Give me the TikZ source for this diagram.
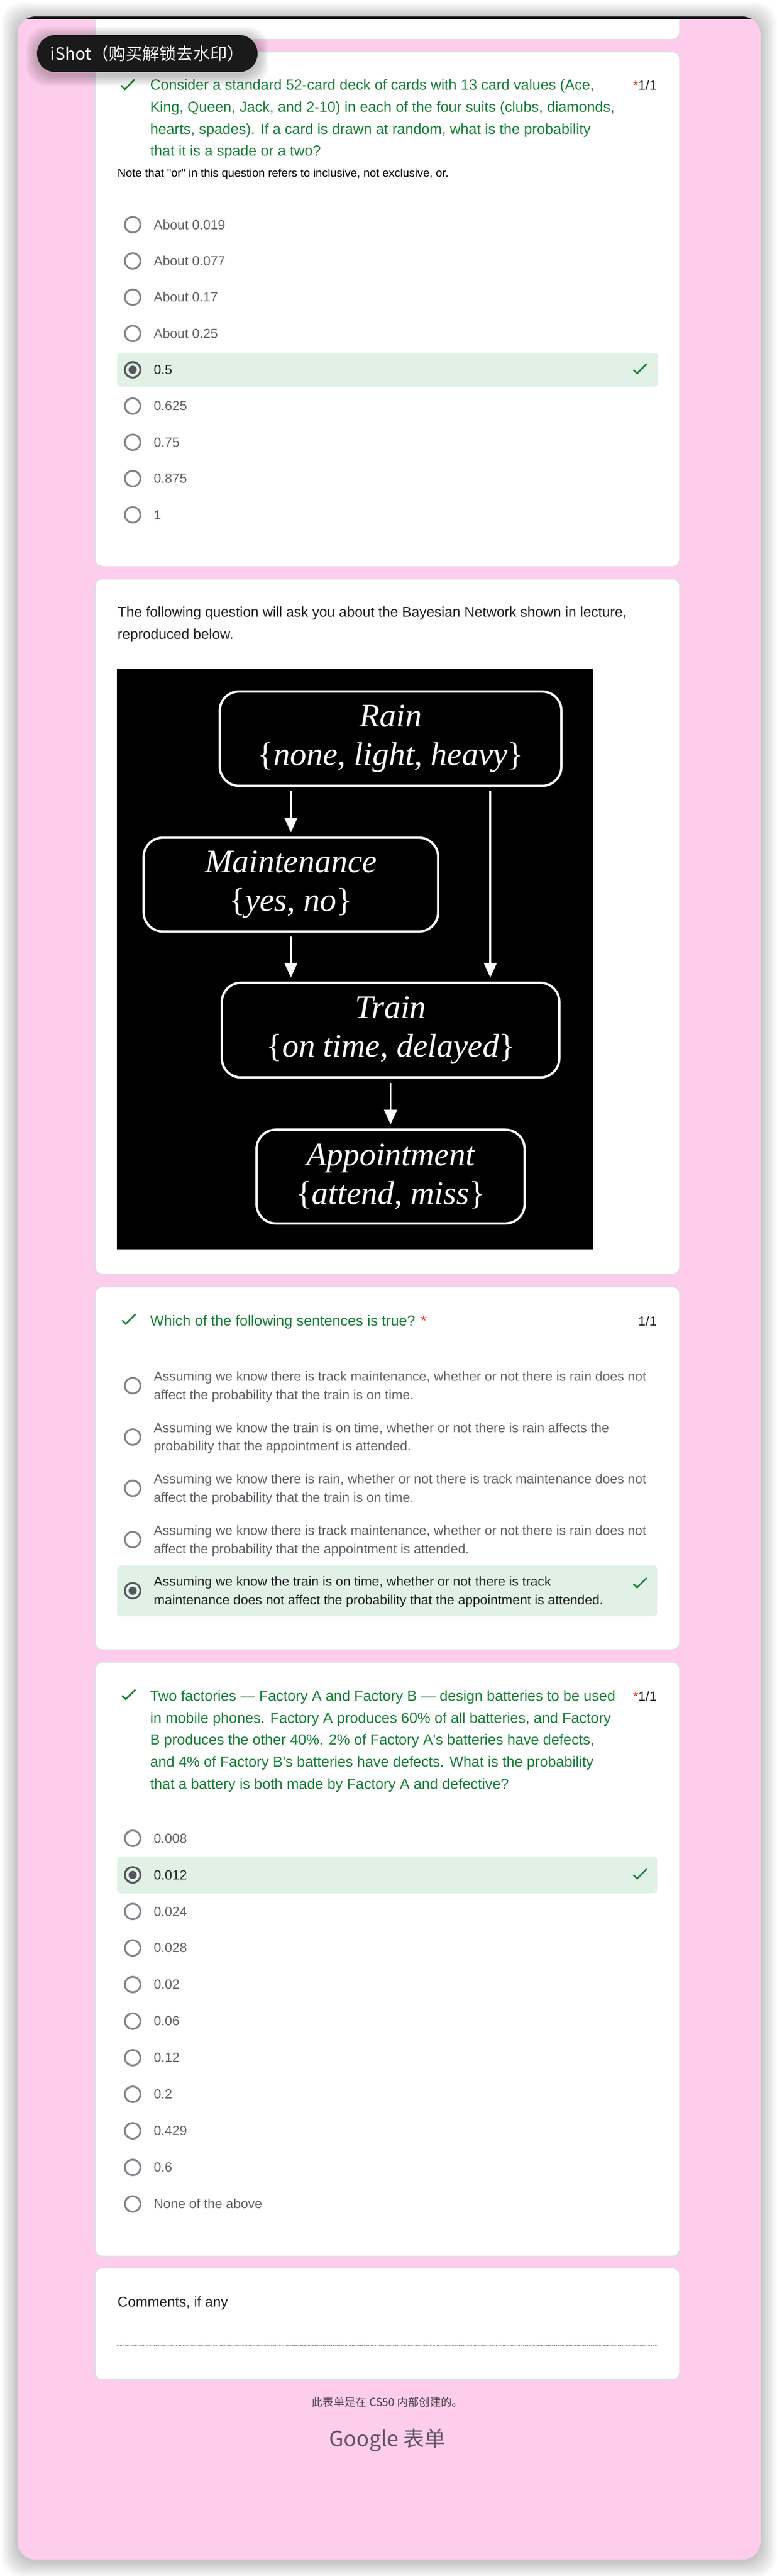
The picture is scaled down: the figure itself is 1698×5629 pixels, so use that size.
\documentclass[tikz,border=0pt]{standalone}
\usepackage{fontspec}
\setmainfont{Liberation Sans}[Ligatures=TeXOff]
\newfontfamily\netfont{Liberation Serif}
\newfontfamily\cjkfont{Noto Sans CJK SC}
\usetikzlibrary{arrows.meta}

\definecolor{pinkbg}{RGB}{253,205,235}
\definecolor{gfgreen}{RGB}{24,128,56}
\definecolor{okfill}{RGB}{225,241,230}
\definecolor{cardline}{RGB}{218,220,224}
\definecolor{radiogray}{RGB}{128,134,139}
\definecolor{radiodark}{RGB}{84,88,94}
\definecolor{optgray}{RGB}{95,99,104}
\definecolor{inkblack}{RGB}{32,33,36}
\definecolor{gfred}{RGB}{217,48,37}
\definecolor{footgray}{RGB}{70,62,68}
\definecolor{logogray}{RGB}{98,84,96}
\definecolor{badgebg}{RGB}{26,26,26}

\begin{document}
\begin{tikzpicture}[x=1pt,y=-1pt,>={Triangle[width=28pt,length=32pt]},
  card/.style={fill=white,draw=cardline,line width=2pt,rounded corners=16pt},
  radio/.style={draw=radiogray,line width=4pt},
  radiosel/.style={draw=radiodark,line width=4pt},
  opt/.style={anchor=base west,inner sep=0pt,font=\fontsize{29}{40}\selectfont},
  title/.style={anchor=base west,inner sep=0pt,text=gfgreen,font=\fontsize{32}{48}\selectfont},
  score/.style={anchor=base east,inner sep=0pt,text=inkblack,font=\fontsize{29}{40}\selectfont},
  plain/.style={anchor=base west,inner sep=0pt,text=inkblack,font=\fontsize{31}{48}\selectfont},
  netbox/.style={draw=white,line width=5pt,rounded corners=42pt,text=white,align=center,inner sep=0pt,font=\netfont\itshape\fontsize{72}{84}\selectfont},
  net/.style={->,draw=white,line width=4pt,shorten <=9pt,shorten >=9pt},
  okline/.style={draw=gfgreen,line width=3.5pt},
  okbar/.style={fill=okfill,rounded corners=8pt}
]

\def\okmark#1#2{\draw[okline,shift={(#1,#2)}] (-14,0) -- (-6,8) -- (15,-13);}

\useasboundingbox (0,0) rectangle (1698,5629);
\fill[white] (0,0) rectangle (1698,5629);

% window shadow
\foreach \s in {1,...,14}
  \fill[black,opacity=0.014,rounded corners=44pt] ({38-2.5*\s},{36-2.5*\s+4}) rectangle ({1663+2.5*\s},{5593+2.5*\s+4});

\begin{scope}
\clip[rounded corners=40pt] (38,36) rectangle (1663,5593);
\fill[pinkbg] (38,36) rectangle (1663,5593);
\draw[card] (208,10) rectangle (1486,86);
\fill[black!90] (38,36) rectangle (1663,42);
\end{scope}

\draw[card] (208,113) rectangle (1486,1238);
\draw[card] (208,1265) rectangle (1486,2784);
\draw[card] (208,2812) rectangle (1486,3605);
\draw[card] (208,3632) rectangle (1486,4930);
\draw[card] (208,4956) rectangle (1486,5200);

% question 1
\okmark{279}{187}
\foreach \t [count=\i] in {{Consider a standard 52-card deck of cards with 13 card values (Ace,},{King, Queen, Jack, and 2-10) in each of the four suits (clubs, diamonds,},{hearts, spades). If a card is drawn at random, what is the probability},{that it is a spade or a two?}}
  \node[title] (qa\i) at (328,{197+48*(\i-1)}) {\t};
\node[score] (qascore) at (1436,197) {\textcolor{gfred}{*}1/1};
\node[anchor=base west,inner sep=0pt,text=black,font=\fontsize{25}{30}\selectfont] (qanote) at (257,387) {Note that "or" in this question refers to inclusive, not exclusive, or.};

\fill[okbar] (256,771) rectangle (1439,845);
\foreach \v/\c [count=\i] in {About 0.019/optgray,About 0.077/optgray,About 0.17/optgray,About 0.25/optgray,0.5/inkblack,0.625/optgray,0.75/optgray,0.875/optgray,1/optgray}{
  \draw[radio] (290,{491+79.25*(\i-1)}) circle (17pt);
  \node[opt,text=\c] (qaopt\i) at (336,{501+79.25*(\i-1)}) {\v};
}
\draw[radiosel] (290,808) circle (17pt);
\fill[radiodark] (290,808) circle (9pt);
\okmark{1399}{808}

% bayesian network
\node[plain] (intro1) at (257,1348) {The following question will ask you about the Bayesian Network shown in lecture,};
\node[plain] (intro2) at (257,1396) {reproduced below.};
\fill[black] (256,1461) rectangle (1297,2730);

\node[netbox,minimum width=747,minimum height=206] (rain) at (854,1614) {Rain\\\textup{\{}none, light, heavy\textup{\}}};
\node[netbox,minimum width=644,minimum height=205] (maint) at (636,1933) {Maintenance\\\textup{\{}yes, no\textup{\}}};
\node[netbox,minimum width=738,minimum height=207] (train) at (854,2251) {Train\\\textup{\{}on time, delayed\textup{\}}};
\node[netbox,minimum width=586,minimum height=205] (appt) at (854,2571) {Appointment\\\textup{\{}attend, miss\textup{\}}};
\coordinate (rt) at (1072,0);

\draw[net] (rain.south -| maint.north) -- (maint.north);
\draw[net] (rain.south -| rt) -- (train.north -| rt);
\draw[net] (maint.south) -- (train.north -| maint.south);
\draw[net] (train.south) -- (appt.north);

% question 2
\okmark{281}{2885}
\node[title] (qb) at (328,2897) {Which of the following sentences is true? \textcolor{gfred}{*}};
\node[score] (qbscore) at (1436,2897) {1/1};

\fill[okbar] (256,3421) rectangle (1437,3532);
\foreach \a/\b [count=\i] in {{Assuming we know there is track maintenance, whether or not there is rain does not}/{affect the probability that the train is on time.},{Assuming we know the train is on time, whether or not there is rain affects the}/{probability that the appointment is attended.},{Assuming we know there is rain, whether or not there is track maintenance does not}/{affect the probability that the train is on time.},{Assuming we know there is track maintenance, whether or not there is rain does not}/{affect the probability that the appointment is attended.}}{
  \draw[radio] (290,{3028+112.1*(\i-1)}) circle (17pt);
  \node[opt,text=optgray] (qbopt\i) at (336,{3018+112.1*(\i-1)}) {\a};
  \node[opt,text=optgray] (qbopt\i b) at (336,{3058+112.1*(\i-1)}) {\b};
}
\draw[radiosel] (290,3476) circle (17pt);
\fill[radiodark] (290,3476) circle (9pt);
\node[opt,text=inkblack] (qbopt5) at (336,3466) {Assuming we know the train is on time, whether or not there is track};
\node[opt,text=inkblack] (qbopt5b) at (336,3506) {maintenance does not affect the probability that the appointment is attended.};
\okmark{1399}{3461}

% question 3
\okmark{281}{3705}
\foreach \t [count=\i] in {{Two factories — Factory A and Factory B — design batteries to be used},{in mobile phones. Factory A produces 60\% of all batteries, and Factory},{B produces the other 40\%. 2\% of Factory A's batteries have defects,},{and 4\% of Factory B's batteries have defects. What is the probability},{that a battery is both made by Factory A and defective?}}
  \node[title] (qc\i) at (328,{3717+48*(\i-1)}) {\t};
\node[score] (qcscore) at (1436,3717) {\textcolor{gfred}{*}1/1};

\fill[okbar] (256,4057) rectangle (1437,4137);
\foreach \v/\c [count=\i] in {0.008/optgray,0.012/inkblack,0.024/optgray,0.028/optgray,0.02/optgray,0.06/optgray,0.12/optgray,0.2/optgray,0.429/optgray,0.6/optgray,None of the above/optgray}{
  \draw[radio] (290,{4017+79.9*(\i-1)}) circle (17pt);
  \node[opt,text=\c] (qcopt\i) at (336,{4027+79.9*(\i-1)}) {\v};
}
\draw[radiosel] (290,4097) circle (17pt);
\fill[radiodark] (290,4097) circle (9pt);
\okmark{1399}{4097}

% comments
\node[plain] (comments) at (257,5041) {Comments, if any};
\draw[radiogray,line width=2pt,densely dotted] (256,5125) -- (1439,5125);

\node[font=\cjkfont\fontsize{24}{28}\selectfont,text=footgray] (made) at (847,5249) {此表单是在 CS50 内部创建的。};
\node[font=\cjkfont\fontsize{46}{50}\selectfont,text=logogray] (gforms) at (847,5332) {Google 表单};

% watermark badge
\foreach \s in {1,...,8}
  \fill[black,opacity=0.03,rounded corners=45pt] ({81-3*\s},{77-3*\s+6}) rectangle ({563+3*\s},{158+3*\s+6});
\node[fill=badgebg,rounded corners=40pt,minimum width=482,minimum height=81,text=white,font=\cjkfont\fontsize{37}{42}\selectfont] (ishot) at (322,117) {iShot（购买解锁去水印）};

\end{tikzpicture}
\end{document}
